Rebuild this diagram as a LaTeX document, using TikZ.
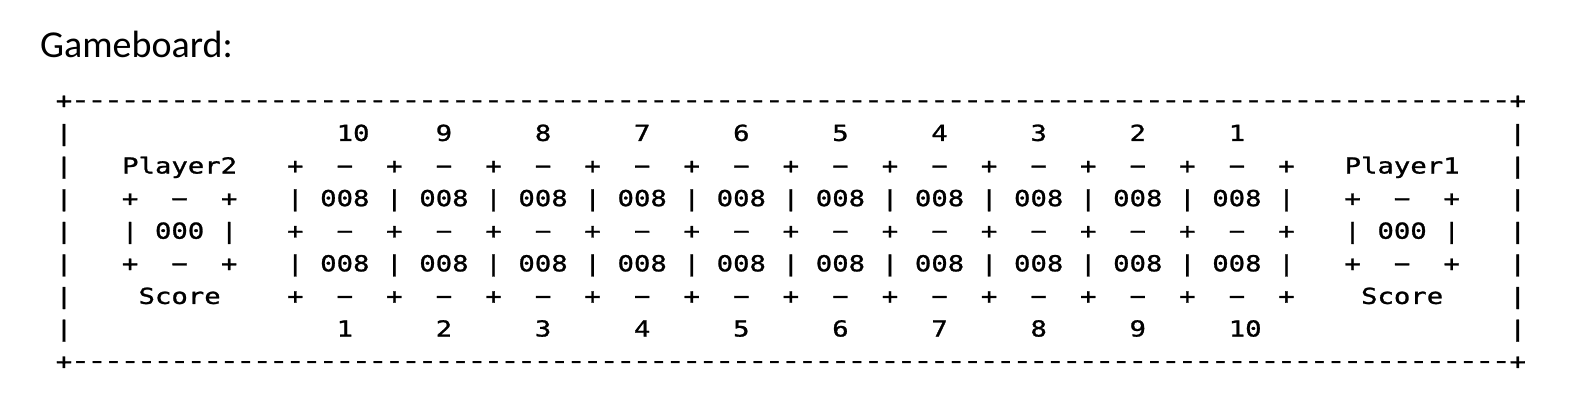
\documentclass[tikz,border=0pt]{standalone}
\usepackage{fontspec}
\newfontfamily\monofont[FakeStretch=1.24,FakeBold=1.2]{DejaVu Sans Mono}
\newfontfamily\titlefont{Carlito}
\begin{document}
\begin{tikzpicture}[x=1pt,y=-1pt,
  ch/.style={inner sep=0pt, anchor=base, text=black, font=\monofont\fontsize{22}{22}\selectfont},
  dashch/.style={ch, xscale=1.2, transform shape},
  title/.style={inner sep=0pt, anchor=base west, font=\titlefont\fontsize{38}{38}\selectfont}]
\def\X#1{64+16.52*(#1)}
\def\Y#1{108.3+32.6*(#1)}
\useasboundingbox (0,0) rectangle (1586,410);
\fill[white] (0,0) rectangle (1586,410);
\node[title] (title) at (40,57) {Gameboard:};
% outer border
\foreach \r in {0,8}{
  \node[ch] (bl\r) at ({\X{0}},{\Y{\r}}) {+};
  \node[ch] (br\r) at ({\X{88}},{\Y{\r}}) {+};
  \foreach \c in {1,...,87}{ \node[dashch] (bd\r-\c) at ({\X{\c}},{\Y{\r}-1}) {-}; }
}
\foreach \r in {1,...,7}{
  \node[ch] (vl\r) at ({\X{0}},{\Y{\r}}) {|};
  \node[ch] (vr\r) at ({\X{88}},{\Y{\r}}) {|};
}
% pit numbers
\foreach \k in {0,...,9}{
  \pgfmathtruncatemacro\top{10-\k}
  \pgfmathtruncatemacro\bot{\k+1}
  \pgfmathsetmacro\ct{\top>9 ? 17.5+6*\k : 17+6*\k}
  \pgfmathsetmacro\cb{\bot>9 ? 17.5+6*\k : 17+6*\k}
  \node[ch] (nt\k) at ({\X{\ct}},{\Y{1}}) {\top};
  \node[ch] (nb\k) at ({\X{\cb}},{\Y{7}}) {\bot};
}
% pit grid
\foreach \r in {2,4,6}{
  \foreach \k in {0,...,10}{ \node[ch] (gp\r-\k) at ({\X{14+6*\k}},{\Y{\r}}) {+}; }
  \foreach \k in {0,...,9}{ \node[ch] (gm\r-\k) at ({\X{17+6*\k}},{\Y{\r}}) {−}; }
}
\foreach \r in {3,5}{
  \foreach \k in {0,...,10}{ \node[ch] (gv\r-\k) at ({\X{14+6*\k}},{\Y{\r}}) {|}; }
  \foreach \k in {0,...,9}{ \node[ch] (gs\r-\k) at ({\X{17+6*\k}},{\Y{\r}}) {008}; }
}
% score boxes
\foreach \c/\p/\n in {4/Player2/L,78/Player1/R}{
  \node[ch] (pl\n) at ({\X{\c+3}},{\Y{2}}) {\p};
  \foreach \r in {3,5}{
    \node[ch] (sa\n\r) at ({\X{\c}},{\Y{\r}}) {+};
    \node[ch] (sm\n\r) at ({\X{\c+3}},{\Y{\r}}) {−};
    \node[ch] (sb\n\r) at ({\X{\c+6}},{\Y{\r}}) {+};
  }
  \node[ch] (sva\n) at ({\X{\c}},{\Y{4}}) {|};
  \node[ch] (sv\n) at ({\X{\c+3}},{\Y{4}}) {000};
  \node[ch] (svb\n) at ({\X{\c+6}},{\Y{4}}) {|};
  \node[ch] (sc\n) at ({\X{\c+3}},{\Y{6}}) {Score};
}
\end{tikzpicture}
\end{document}
